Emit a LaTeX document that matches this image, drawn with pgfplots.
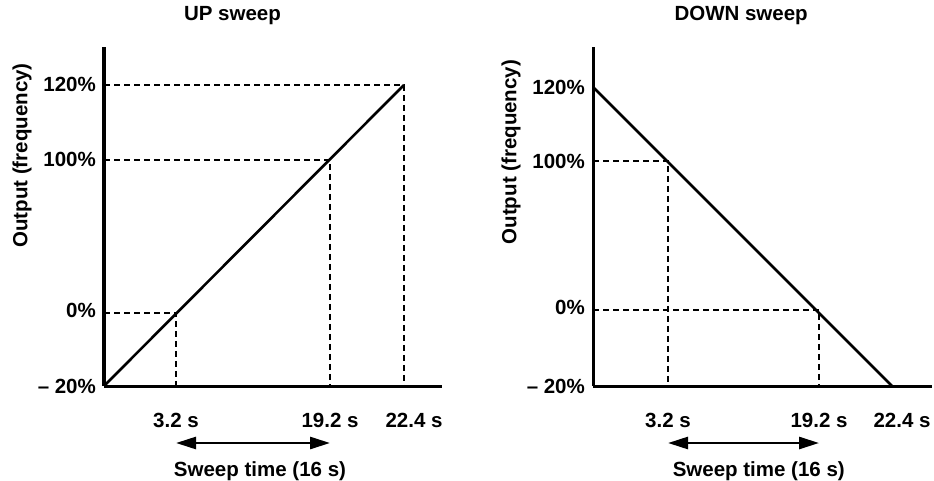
\documentclass[border=0pt]{standalone}
\usepackage{pgfplots}
\pgfplotsset{compat=1.18}
\usepackage{fontspec}
\setmainfont{Liberation Sans}
\usetikzlibrary{arrows.meta}
\newcommand\chfont{\fontsize{20.5bp}{24bp}\selectfont\bfseries}
% schematic (piecewise linear) axes: real values -> drawn positions (bp)
\makeatletter
\newcommand\schfpu[1]{\begingroup\pgfkeys{/pgf/fpu=true,/pgf/fpu/output format=fixed}\pgfmathparse{#1}\pgfmath@smuggleone\pgfmathresult\endgroup}
\makeatother
\pgfplotsset{
  sch/.style n args={6}{
    x coord trafo/.code={\schfpu{(##1<=3.2)?(##1*#1/3.2):((##1<=19.2)?(#1+(##1-3.2)*(#2-#1)/16):(#2+(##1-19.2)*(#3-#2)/3.2))}},
    y coord trafo/.code={\schfpu{(##1<=0)?((##1+20)*#4/20):((##1<=100)?(#4+##1*(#5-#4)/100):(#5+(##1-100)*(#6-#5)/20))}},
  },
  sweep/.style={
    scale only axis, height=339bp, clip=false,
    axis x line*=bottom, axis y line*=left,
    axis line style={-, line width=3bp},
    xmin=0, ymin=-20,
    major tick length=0pt, tick style={draw=none},
    tick label style={font=\chfont},
    label style={font=\chfont},
    title style={font=\chfont},
    ytick={-20,0,100,120},
    yticklabels={–\hspace{5.5bp}20\%\hspace{4bp}, \raisebox{6bp}{0\%}, 100\%, 120\%},
    yticklabel style={anchor=east, inner sep=0pt, xshift=-8bp},
    xtick={3.2,19.2,22.4},
    xticklabels={3.2 s, 19.2 s, \hspace*{20bp}22.4 s},
    xticklabel style={anchor=base, inner sep=0pt, yshift=-41bp},
    ylabel={Output (frequency)},
    xlabel={Sweep time (16 s)},
    axis on top,
  },
  dsh/.style={line width=2.3bp, dash pattern=on 6bp off 4bp},
  sol/.style={line width=2.6bp},
}
\begin{document}
\begin{tikzpicture}[font=\chfont]
\path[use as bounding box] (0,0) rectangle (934bp,-481bp);
% UP sweep
\begin{axis}[sweep, sch={72}{226}{300}{73}{226}{301},
  at={(104bp,-386bp)}, anchor=south west, width=338bp,
  xmax=24.04, ymax=130.1,
  title={UP sweep},
  title style={at={(rel axis cs:0.38,1.062)}, anchor=base, inner sep=0pt},
  ylabel style={at={(rel axis cs:-0.2426,0.68)}, anchor=center, rotate=0, inner sep=0pt},
  xlabel style={at={(rel axis cs:0.4615,0)}, anchor=base, inner sep=0pt, yshift=-90bp},
]
\addplot[dsh] coordinates {(0,120) (22.4,120) (22.4,-20)};
\addplot[dsh] coordinates {(0,100) (19.2,100) (19.2,-20)};
\addplot[dsh] coordinates {(0,0) (3.2,0) (3.2,-20)};
\addplot[sol] coordinates {(0,-20) (22.4,120)};
\draw[line width=2.6bp, {Triangle[length=20bp,width=12bp]}-{Triangle[length=20bp,width=12bp]}]
  ([yshift=-57bp]axis cs:3.2,-20) -- ([yshift=-57bp]axis cs:19.2,-20);
\end{axis}
% DOWN sweep
\begin{axis}[sweep, sch={75}{226}{299}{76}{225}{299},
  at={(593bp,-386bp)}, anchor=south west, width=339bp,
  xmax=24.15, ymax=130.8,
  title={DOWN sweep},
  title style={at={(rel axis cs:0.437,1.062)}, anchor=base, inner sep=0pt},
  ylabel style={at={(rel axis cs:-0.2419,0.69)}, anchor=center, rotate=0, inner sep=0pt},
  xlabel style={at={(rel axis cs:0.489,0)}, anchor=base, inner sep=0pt, yshift=-90bp},
]
\addplot[dsh] coordinates {(0,100) (3.2,100) (3.2,-20)};
\addplot[dsh] coordinates {(0,0) (19.2,0) (19.2,-20)};
\addplot[sol] coordinates {(0,120) (22.4,-20)};
\draw[line width=2.6bp, {Triangle[length=20bp,width=12bp]}-{Triangle[length=20bp,width=12bp]}]
  ([yshift=-57bp]axis cs:3.2,-20) -- ([yshift=-57bp]axis cs:19.2,-20);
\end{axis}
\end{tikzpicture}
\end{document}
